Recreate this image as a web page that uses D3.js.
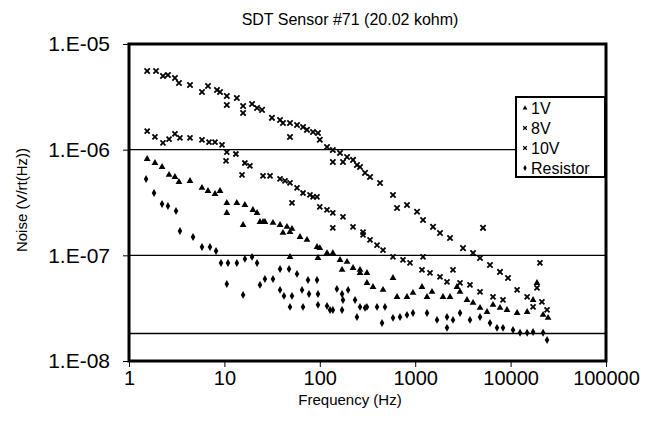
<!DOCTYPE html>
<html>
<head>
<meta charset="utf-8">
<script src="https://cdn.jsdelivr.net/npm/d3@7"></script>
<style>
  body { margin: 0; background: #fff; }
  text { font-family: "Liberation Sans", Arial, sans-serif; fill: #000; }
</style>
</head>
<body>
<div id="chart"></div>
<script>
/**
 * Basic Settings
 */
const canvasWidth = 650;
const canvasHeight = 421;
const plotLeft = 129, plotRight = 606, plotTop = 44, plotBottom = 361;

// Series data (frequency in Hz, noise in V/rt(Hz))
const freq10V = [1.55, 1.92, 2.27, 2.56, 3.03, 3.34, 4.36, 5.82, 6.73, 8.36, 9.0, 10.6, 10.6, 13.5, 15.7, 15.7, 19.5, 22, 24.8, 31.5, 38.3, 41.1, 48.7, 48.7, 57.7, 66.7, 73.4, 84.9, 95.7,
  100, 119, 137, 163, 193, 223, 245, 298, 137, 175, 264, 336, 428, 585, 645, 820, 1045, 1208, 1538, 1820, 2317, 3170, 4040, 4780, 6080, 7740, 9390, 5140];
const noise10V = [5.56e-6, 5.56e-6, 4.98e-6, 5.09e-6, 4.77e-6, 4.28e-6, 4.09e-6, 3.52e-6, 4.01e-6, 3.67e-6, 3.52e-6, 3.22e-6, 2.65e-6, 3.08e-6, 2.59e-6, 2.22e-6, 2.71e-6, 2.48e-6, 2.38e-6, 2.0e-6, 1.91e-6, 1.79e-6, 1.79e-6, 1.32e-6, 1.71e-6, 1.64e-6, 1.54e-6, 1.47e-6, 1.44e-6,
  1.24e-6, 1.06e-6, 9.93e-7, 9.3e-7, 8.53e-7, 8.0e-7, 7.17e-7, 6.03e-7, 7.65e-7, 7.65e-7, 6.86e-7, 5.52e-7, 4.84e-7, 3.73e-7, 2.81e-7, 3.0e-7, 2.58e-7, 2.16e-7, 1.86e-7, 1.63e-7, 1.46e-7, 1.17e-7, 1.05e-7, 9.45e-8, 8.11e-8, 6.97e-8, 6.11e-8, 1.82e-7];

const freq8V = [1.55, 1.87, 2.27, 2.63, 3.03, 3.42, 4.36, 5.82, 6.9, 7.97, 9.44, 10.6, 13.2, 10.4, 15.3, 16.4, 18.5, 25.4, 30.1, 38.3, 43.2, 48.7, 57.7, 66.7, 78.9, 93.5, 51.1, 84.9,
  100, 119, 137, 175, 223, 284, 137, 284, 336, 398, 460, 585, 745, 882, 1208, 1178, 1430, 1820, 2155, 2490, 2950, 3750, 4780, 6540, 8320, 11700, 14900, 17200, 18900, 20300, 21300, 24100];
const noise8V = [1.5e-6, 1.32e-6, 1.16e-6, 1.26e-6, 1.41e-6, 1.29e-6, 1.29e-6, 1.24e-6, 1.18e-6, 1.18e-6, 1.11e-6, 9.5e-7, 9.1e-7, 7.82e-7, 5.77e-7, 7.48e-7, 7.02e-7, 5.64e-7, 5.64e-7, 5.28e-7, 5.06e-7, 4.84e-7, 4.35e-7, 3.89e-7, 3.73e-7, 3.57e-7, 3.13e-7, 3.57e-7,
  2.87e-7, 2.69e-7, 2.52e-7, 2.31e-7, 1.86e-7, 1.66e-7, 1.82e-7, 1.56e-7, 1.4e-7, 1.25e-7, 1.12e-7, 9.66e-8, 9.04e-8, 8.47e-8, 9.66e-8, 7.28e-8, 6.81e-8, 6.25e-8, 5.6e-8, 7.28e-8, 5.48e-8, 5.25e-8, 4.51e-8, 4.04e-8, 3.78e-8, 4.71e-8, 4.04e-8, 3.25e-8, 4.92e-8, 8.47e-8, 3.62e-8, 3.04e-8];

const freq1V = [1.55, 1.87, 2.22, 2.63, 3.03, 3.34, 4.36, 5.82, 6.73, 7.97, 9.0, 10.6, 10.6, 13.5, 16.4, 19.9, 22, 25.4, 32.3, 38.3, 45.3, 51.1, 62, 15.7, 23.6, 26.6, 41.1, 48.7, 73.4,
  93.5, 100, 119, 137, 163, 193, 223, 264, 312, 171, 48.7, 95.7, 264, 312, 361, 460, 585, 645, 820, 948, 1178, 1330, 1500, 1955, 2317, 2740, 2950, 3490, 4040, 4780, 5660, 6540, 7740, 9160, 11700, 14900, 17200, 18900, 21900, 24700];
const noise1V = [8.17e-7, 7.48e-7, 6.86e-7, 5.77e-7, 5.52e-7, 4.95e-7, 5.06e-7, 4.35e-7, 4.07e-7, 3.81e-7, 4.07e-7, 3.13e-7, 2.52e-7, 3.13e-7, 3.0e-7, 2.69e-7, 2.52e-7, 2.07e-7, 2.03e-7, 1.94e-7, 1.86e-7, 1.78e-7, 1.49e-7, 1.94e-7, 2.07e-7, 2.07e-7, 1.63e-7, 1.66e-7, 1.4e-7,
  1.2e-7, 1.17e-7, 1.05e-7, 1.05e-7, 9.04e-8, 8.67e-8, 7.6e-8, 7.28e-8, 6.81e-8, 7.28e-8, 9.66e-8, 9.45e-8, 6.81e-8, 5.48e-8, 5.02e-8, 4.71e-8, 6.11e-8, 4.04e-8, 4.04e-8, 4.41e-8, 5.02e-8, 4.04e-8, 4.51e-8, 4.04e-8, 4.04e-8, 5.02e-8, 4.51e-8, 3.78e-8, 3.55e-8, 3.18e-8, 2.91e-8, 3.4e-8, 3.18e-8, 3.04e-8, 2.85e-8, 2.91e-8, 3.78e-8, 5.48e-8, 2.73e-8, 2.56e-8];

const freqRes = [1.51, 1.83, 2.22, 2.56, 3.11, 3.42, 4.69, 5.82, 7.06, 8.17, 9.21, 10.9, 13.5, 16.4, 19.5, 22, 10.6, 15.7, 23.6, 26.6, 32.3, 38.3, 47.6, 57.7, 38.3, 42.1, 51.1, 48.7, 66.7, 65.1, 77.1, 95.7, 95.7,
  119, 128, 137, 171, 171, 198, 175, 234, 298, 245, 151, 75.2, 93.5, 264, 312, 398, 482, 449, 585, 693, 820, 948, 1330, 1693, 2155, 2490, 2950, 3750, 4780, 6080, 7200, 8320, 10600, 12560, 14900, 17200, 21900, 24100, 2155];
const noiseRes = [5.28e-7, 3.89e-7, 3.06e-7, 2.93e-7, 2.63e-7, 1.7e-7, 1.49e-7, 1.2e-7, 1.2e-7, 1.1e-7, 8.47e-8, 8.47e-8, 8.47e-8, 9.25e-8, 9.66e-8, 8.47e-8, 5.36e-8, 4.22e-8, 5.25e-8, 5.98e-8, 5.98e-8, 7.43e-8, 7.43e-8, 6.67e-8, 4.71e-8, 4.13e-8, 4.13e-8, 3.25e-8, 3.25e-8, 4.71e-8, 4.31e-8, 4.31e-8, 3.4e-8,
  3.32e-8, 3.04e-8, 3.04e-8, 3.04e-8, 4.31e-8, 4.71e-8, 3.78e-8, 3.78e-8, 3.18e-8, 2.61e-8, 4.81e-8, 5.85e-8, 5.85e-8, 3.25e-8, 3.25e-8, 3.25e-8, 3.25e-8, 2.29e-8, 2.56e-8, 2.61e-8, 2.73e-8, 2.85e-8, 2.85e-8, 2.45e-8, 2.06e-8, 2.45e-8, 2.85e-8, 2.45e-8, 2.61e-8, 2.29e-8, 2.06e-8, 2.06e-8, 1.97e-8, 1.85e-8, 1.85e-8, 1.88e-8, 1.85e-8, 1.58e-8, 2.61e-8];

const seriesNames = ["1V", "8V", "10V", "Resistor"];
const xTicks = [1, 10, 100, 1000, 10000, 100000];
const yTicks = [1e-8, 1e-7, 1e-6, 1e-5];
const gridValues = [1e-6, 1e-7, 1.82e-8]; // 1.82e-8 = thermal noise of 20.02 kohm

const series = [
  { name: seriesNames[0], freq: freq1V, noise: noise1V, symbol: d3.symbolTriangle, size: 20 },
  { name: seriesNames[1], freq: freq8V, noise: noise8V, symbol: d3.symbolTimes, size: 18 },
  { name: seriesNames[2], freq: freq10V, noise: noise10V, symbol: d3.symbolTimes, size: 20 },
  { name: seriesNames[3], freq: freqRes, noise: noiseRes, symbol: d3.symbolDiamond, size: 18 }
];

const svg = d3.select("#chart")
  .append("svg")
  .attr("width", canvasWidth)
  .attr("height", canvasHeight)
  .style("background", "#fff");

const xScale = d3.scaleLog().domain([1, 100000]).range([plotLeft, plotRight]);
const yScale = d3.scaleLog().domain([1e-8, 1e-5]).range([plotBottom, plotTop]);

// Gridlines
svg.append("g")
  .selectAll("line")
  .data(gridValues)
  .join("line")
  .attr("x1", plotLeft).attr("x2", plotRight)
  .attr("y1", d => yScale(d)).attr("y2", d => yScale(d))
  .attr("stroke", "#000")
  .attr("stroke-width", 1.4);

// Axes
const xAxis = svg.append("g")
  .attr("transform", "translate(0," + plotBottom + ")")
  .call(d3.axisBottom(xScale).tickValues(xTicks).tickFormat(d3.format("d")).tickSize(6).tickPadding(4));
xAxis.select(".domain").remove();
xAxis.selectAll("text").style("font-size", "20px");

const yAxis = svg.append("g")
  .attr("transform", "translate(" + plotLeft + ",0)")
  .call(d3.axisLeft(yScale).tickValues(yTicks)
    .tickFormat(d => "1.E-0" + Math.round(-Math.log10(d)))
    .tickSize(6).tickPadding(13));
yAxis.select(".domain").remove();
yAxis.selectAll("text").style("font-size", "21px");

// Plot frame
svg.append("rect")
  .attr("x", plotLeft).attr("y", plotTop)
  .attr("width", plotRight - plotLeft).attr("height", plotBottom - plotTop)
  .attr("fill", "none")
  .attr("stroke", "#000")
  .attr("stroke-width", 3);

// Points
series.forEach(function(s) {
  const pts = s.freq.map((f, i) => [f, s.noise[i]]);
  svg.append("g")
    .selectAll("path")
    .data(pts)
    .join("path")
    .attr("transform", d => "translate(" + xScale(d[0]) + "," + yScale(d[1]) + ")")
    .attr("d", d3.symbol().type(s.symbol).size(s.size))
    .attr("fill", "#000")
    .attr("stroke", s.symbol === d3.symbolTimes ? "#000" : "none")
    .attr("stroke-width", 1.8);
});

// Legend
const legend = svg.append("g").attr("transform", "translate(516,97)");
legend.append("rect")
  .attr("width", 89).attr("height", 80)
  .attr("fill", "#fff")
  .attr("stroke", "#000")
  .attr("stroke-width", 2);
series.forEach(function(s, i) {
  const cy = 11 + i * 20;
  legend.append("path")
    .attr("transform", "translate(9," + cy + ")")
    .attr("d", d3.symbol().type(s.symbol).size(10))
    .attr("fill", "#000")
    .attr("stroke", s.symbol === d3.symbolTimes ? "#000" : "none")
    .attr("stroke-width", 1.2);
  legend.append("text")
    .attr("x", 15).attr("y", cy + 6)
    .style("font-size", "16px")
    .text(s.name);
});

// Titles
svg.append("text")
  .attr("x", 350).attr("y", 25)
  .attr("text-anchor", "middle")
  .style("font-size", "16px")
  .text("SDT Sensor #71 (20.02 kohm)");

svg.append("text")
  .attr("x", 350).attr("y", 405)
  .attr("text-anchor", "middle")
  .style("font-size", "15px")
  .text("Frequency (Hz)");

svg.append("text")
  .attr("transform", "translate(27,200) rotate(-90)")
  .attr("text-anchor", "middle")
  .style("font-size", "15px")
  .text("Noise (V/rt(Hz))");
</script>
</body>
</html>
